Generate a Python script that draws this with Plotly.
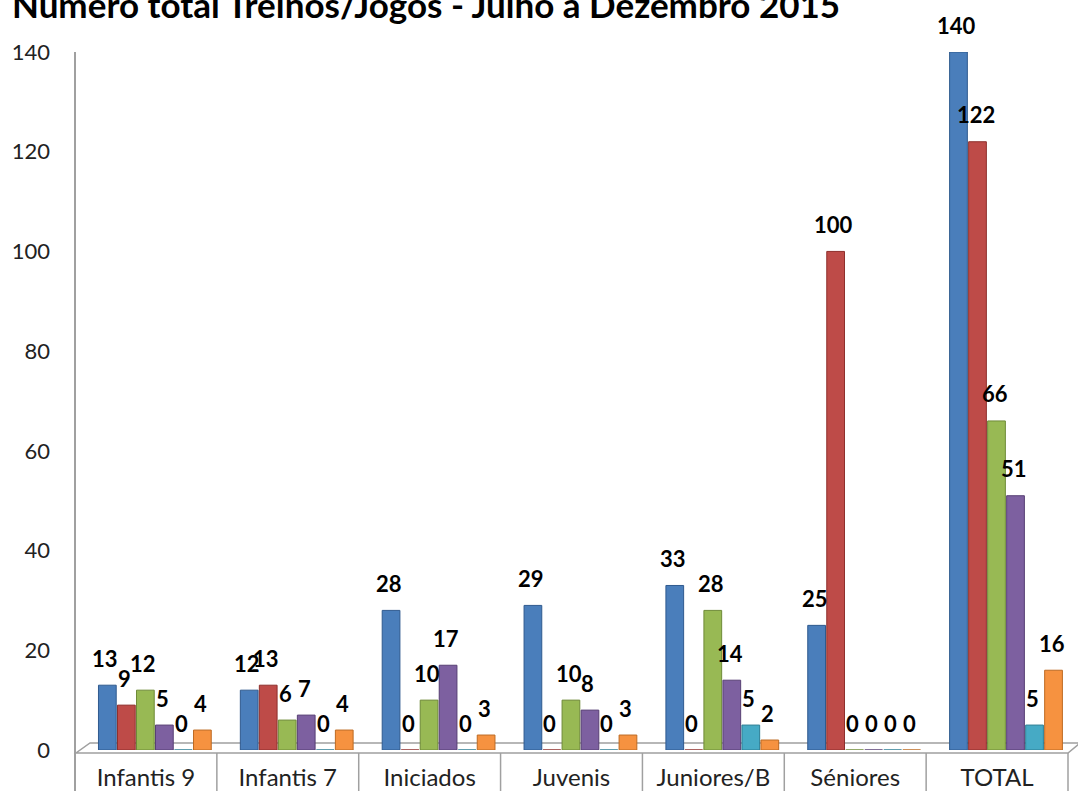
import plotly.graph_objects as go

categories = ["Infantis 9", "Infantis 7", "Iniciados", "Juvenis", "Juniores/B", "Séniores", "TOTAL"]
serie1 = [13, 12, 28, 29, 33, 25, 140]
serie2 = [9, 13, 0, 0, 0, 100, 122]
serie3 = [12, 6, 10, 10, 28, 0, 66]
serie4 = [5, 7, 17, 8, 14, 0, 51]
serie5 = [0, 0, 0, 0, 5, 0, 5]
serie6 = [4, 4, 3, 3, 2, 0, 16]
y_ticks = [0, 20, 40, 60, 80, 100, 120, 140]
title_text = "Número total Treinos/Jogos - Julho a Dezembro 2015"

series = [
    ("Série 1", serie1, "#4A7EBB", "#2F5A8E"),
    ("Série 2", serie2, "#BE4B48", "#8E2F2C"),
    ("Série 3", serie3, "#98B954", "#6E8A37"),
    ("Série 4", serie4, "#7D60A0", "#573F74"),
    ("Série 5", serie5, "#46AAC5", "#2B7D93"),
    ("Série 6", serie6, "#F69240", "#BD6A22"),
]

W, H = 1078, 791
ML, MR, MT, MB = 75, 10, 52, 41
plot_w = W - ML - MR
plot_h = H - MT - MB

slot = 0.134
bw = 0.125
shift = 0.063

fig = go.Figure()
annotations = []
for i, (name, vals, col, edge) in enumerate(series):
    off = shift - 3 * slot + i * slot + (slot - bw) / 2
    fig.add_trace(go.Bar(
        name=name, x=categories, y=vals, width=bw, offset=off,
        marker=dict(color=col, line=dict(color=edge, width=1)),
        showlegend=False, hoverinfo="x+y",
    ))
    for j, v in enumerate(vals):
        annotations.append(dict(
            x=j + off + bw / 2, y=v, xref="x", yref="y",
            text="<b>%d</b>" % v, showarrow=False,
            yanchor="middle", xanchor="center", yshift=27, xshift=-2,
            font=dict(family="Lato", size=22, color="#000000"),
        ))

annotations.append(dict(
    x=(10 - ML) / plot_w, y=1 + (MT - 27) / plot_h, xref="paper", yref="paper",
    text="<b>" + title_text + "</b>", showarrow=False,
    xanchor="left", yanchor="bottom",
    font=dict(family="Lato", size=35, color="#000000"),
))

def px_x(px):
    return (px - ML) / plot_w

def px_y(py):
    return (H - MB - py) / plot_h

grey = "#A0A0A0"
shapes = []
# floor (3D base)
shapes.append(dict(
    type="path", xref="paper", yref="paper", layer="below",
    path="M %f,%f L %f,%f L %f,%f L %f,%f Z" % (
        px_x(76), px_y(753), px_x(1068), px_y(753),
        px_x(1080), px_y(743), px_x(90), px_y(743)),
    fillcolor="#FFFFFF", line=dict(color=grey, width=1.5),
))
# category separators
for k in range(len(categories) + 1):
    shapes.append(dict(
        type="line", xref="paper", yref="paper",
        x0=k / len(categories), x1=k / len(categories),
        y0=px_y(753), y1=px_y(795),
        line=dict(color=grey, width=1.5),
    ))
# y axis line
shapes.append(dict(
    type="line", xref="paper", yref="paper", x0=0, x1=0,
    y0=px_y(52), y1=px_y(795), line=dict(color=grey, width=2),
))

fig.update_layout(
    width=W, height=H,
    margin=dict(l=ML, r=MR, t=MT, b=MB, pad=0),
    paper_bgcolor="white", plot_bgcolor="white",
    barmode="group",
    annotations=annotations, shapes=shapes,
    font=dict(family="Lato", size=22, color="#222222"),
    xaxis=dict(
        type="category", range=[-0.5, 6.5], showgrid=False, zeroline=False,
        showline=False, ticks="", ticklabelstandoff=11, automargin=False,
        tickfont=dict(family="Lato", size=24, color="#222222"),
    ),
    yaxis=dict(
        range=[0, 140], tickvals=y_ticks, showgrid=False, zeroline=False,
        showline=False, ticks="", ticklabelstandoff=24, automargin=False,
        tickfont=dict(family="Lato", size=22, color="#222222"),
    ),
)

fig.write_html("out.html", config={"displayModeBar": False},
               post_script="document.body.style.margin='0px';")
